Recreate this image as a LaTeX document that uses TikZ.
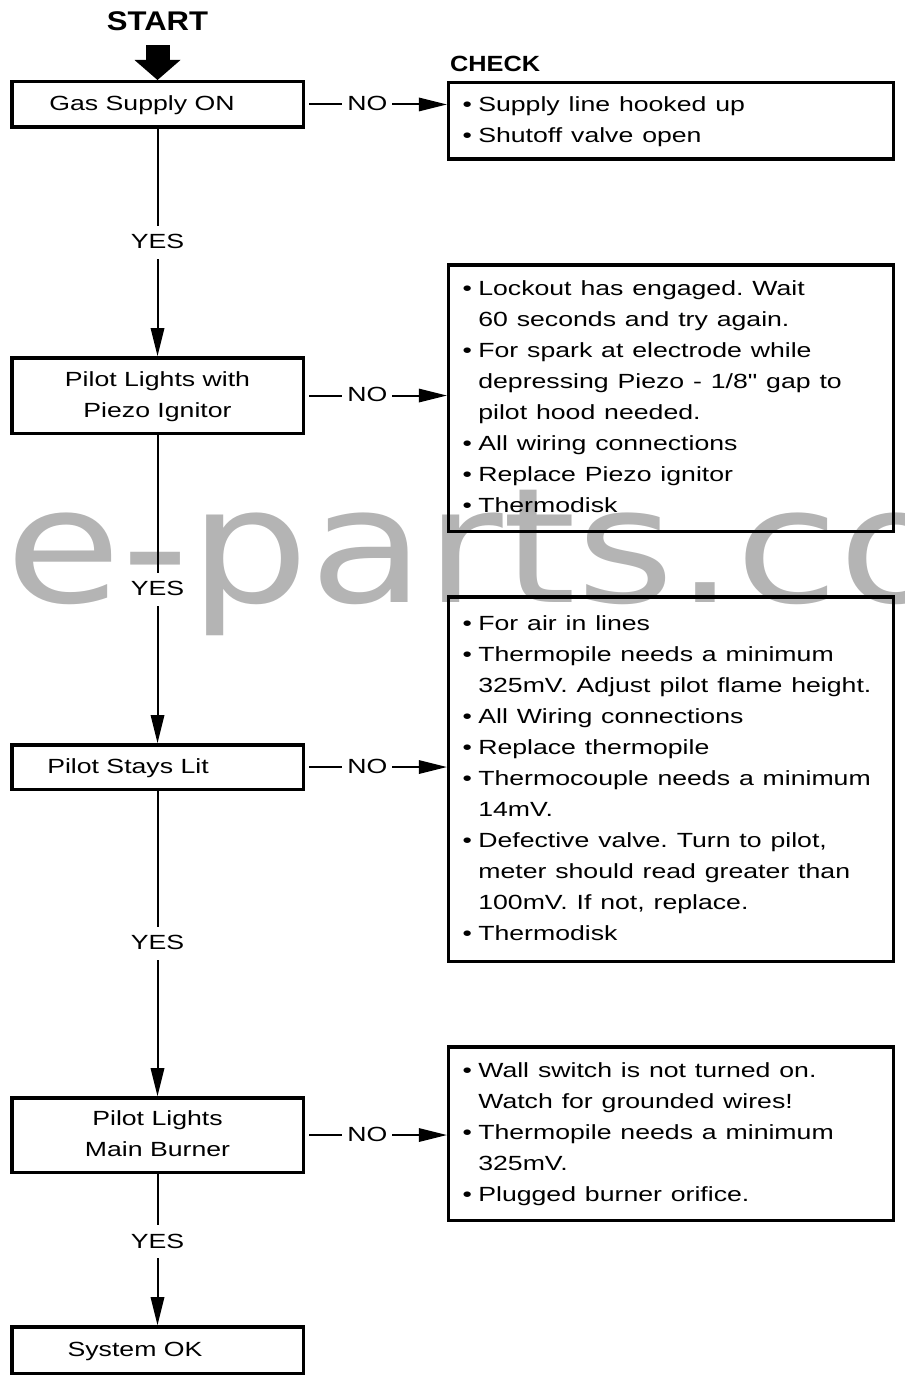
\documentclass[tikz,border=0pt]{standalone}
\usepackage{graphicx}
\usepackage{fontspec}
\setmainfont{Liberation Sans}
\newfontfamily\plainfont{Liberation Sans}
\newfontfamily\markfont{DejaVu Sans}
\usetikzlibrary{arrows.meta}
\newcommand{\widen}[2][c]{\scalebox{1.3}[1]{\begin{tabular}{@{}#1@{}}#2\end{tabular}}}
\newcommand{\bul}{\textbullet}
\newcommand{\inch}{{\plainfont"}}
\definecolor{markcol}{RGB}{180,180,180}
\tikzset{every picture/.style={x=1pt,y=-1pt}}
\tikzset{stepbox/.style={draw,line width=3.5pt,minimum width=291.5pt,inner sep=0pt}}
\tikzset{checkbox/.style={draw,line width=3.5pt,text width=417pt,inner xsep=14pt,inner ysep=0pt,align=left}}
\tikzset{flow/.style={line width=2pt,-{Triangle[length=28pt,width=14pt,line width=0pt]}}}
\tikzset{answer/.style={fill=white,inner xsep=5pt,inner ysep=1pt}}
\tikzset{heading/.style={font=\fontsize{27}{30}\selectfont\bfseries,inner sep=0pt}}
\frenchspacing

\begin{document}
\begin{tikzpicture}[font=\fontsize{20.5}{31}\selectfont]
\useasboundingbox (0,0) rectangle (904,1380);
\node [markcol,anchor=base west,inner sep=0pt] (mark) at (5, 602) {\scalebox{1.18}[1]{\markfont\fontsize{160}{160}\selectfont e-parts.co}};

\node [heading,anchor=base] (start) at (157.5, 31) {\scalebox{1.15}[1]{START}};
\node [heading,font=\fontsize{22}{26}\selectfont\bfseries,anchor=base west] (check) at (450, 72) {\scalebox{1.15}[1]{CHECK}};

\node [stepbox,minimum height=45.5pt] (gas) at (157.5, 104.5) {\widen{Gas Supply ON}\hspace*{31pt}};
\node [stepbox,minimum height=75.5pt] (piezo) at (157.5, 395.5) {\widen{Pilot Lights with\\Piezo Ignitor}};
\node [stepbox,minimum height=44.5pt] (stays) at (157.5, 767) {\widen{Pilot Stays Lit}\hspace*{59pt}};
\node [stepbox,minimum height=74.5pt] (burner) at (157.5, 1135) {\widen{Pilot Lights\\Main Burner}};
\node [stepbox,minimum height=46.5pt] (ok) at (157.5, 1350) {\widen{System OK}\hspace*{45pt}};

\node [checkbox,minimum height=76.5pt] (chk1) at (671, 121) {\widen[l@{\hspace{5pt}}l]{\bul & Supply line hooked up\\
\bul & Shutoff valve open}};
\node [checkbox,minimum height=266.5pt] (chk2) at (671, 398) {\widen[l@{\hspace{5pt}}l]{\bul & Lockout has engaged. Wait\\
& 60 seconds and try again.\\
\bul & For spark at electrode while\\
& depressing Piezo - 1/8\inch{} gap to\\
& pilot hood needed.\\
\bul & All wiring connections\\
\bul & Replace Piezo ignitor\\
\bul & Thermodisk}};
\node [checkbox,minimum height=364.5pt] (chk3) at (671, 779) {\widen[l@{\hspace{5pt}}l]{\bul & For air in lines\\
\bul & Thermopile needs a minimum\\
& 325mV. Adjust pilot flame height.\\
\bul & All Wiring connections\\
\bul & Replace thermopile\\
\bul & Thermocouple needs a minimum\\
& 14mV.\\
\bul & Defective valve. Turn to pilot,\\
& meter should read greater than\\
& 100mV. If not, replace.\\
\bul & Thermodisk}};
\node [checkbox,minimum height=173.5pt] (chk4) at (671, 1133.5) {\widen[l@{\hspace{5pt}}l]{\bul & Wall switch is not turned on.\\
& Watch for grounded wires!\\
\bul & Thermopile needs a minimum\\
& 325mV.\\
\bul & Plugged burner orifice.}};

\draw [line width=24pt,-{Triangle[length=20pt,width=46pt,line width=0pt]},shorten <=14pt] (start) -- (gas);
\draw [flow] (gas) -- node [answer] {\widen{YES}} (piezo);
\draw [flow] (piezo) -- node [answer] {\widen{YES}} (stays);
\draw [flow] (stays) -- node [answer] {\widen{YES}} (burner);
\draw [flow] (burner) -- node [answer,pos=.45] {\widen{YES}} (ok);
\draw [flow,shorten <=4pt] (gas) -- node [answer,pos=.44] {\widen{NO}} (gas -| chk1.west);
\draw [flow,shorten <=4pt] (piezo) -- node [answer,pos=.44] {\widen{NO}} (piezo -| chk2.west);
\draw [flow,shorten <=4pt] (stays) -- node [answer,pos=.44] {\widen{NO}} (stays -| chk3.west);
\draw [flow,shorten <=4pt] (burner) -- node [answer,pos=.44] {\widen{NO}} (burner -| chk4.west);
\end{tikzpicture}
\end{document}
